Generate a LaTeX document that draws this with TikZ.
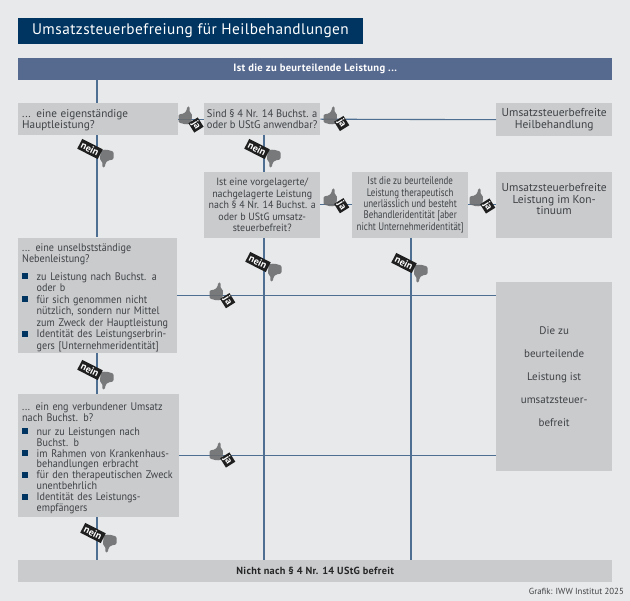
\documentclass[tikz,border=0pt]{standalone}
\usepackage{fontspec}
\setmainfont{PT Sans}
\newfontfamily\dint[LetterSpace=3]{PT Sans}
\newfontfamily\din[FakeStretch=0.92]{PT Sans}
\newfontfamily\dina[FakeStretch=0.95]{PT Sans}
\newfontfamily\dinc[FakeStretch=0.81]{PT Sans}
\definecolor{pagebg}{HTML}{E8E9EA}
\definecolor{boxgrey}{HTML}{C9CBCD}
\definecolor{navy}{HTML}{003561}
\definecolor{headblue}{HTML}{56698F}
\definecolor{rail}{HTML}{4F6F92}
\definecolor{txt}{HTML}{3F4245}
\definecolor{thumbgrey}{HTML}{6B6D70}
\newcommand{\bul}{\makebox[14.5pt][l]{\raisebox{1pt}{\textcolor{navy}{\rule{6pt}{6pt}}}}}
\newcommand{\ind}{\hspace*{14.5pt}}
\tikzset{
  x=1pt,y=-1pt,
  greybox/.style={fill=boxgrey,text=txt,anchor=north west,inner sep=0pt,align=center},
  leftbox/.style={greybox,align=left},
  conn/.style={draw=rail,line width=1.1pt},
  thumbup/.pic={\fill[thumbgrey,opacity=.9,rounded corners=1.3pt]
    (-6.5,-1.5)--(-1,-2.5)--(1.5,-5)--(2.2,-9.5)--(4.6,-9.5)--(4.6,-3.5)--(7,-2.5)--(6.5,7.5)--(1,8.5)--(-6.5,6.5)--cycle;},
  tagbox/.style={fill=black!88,text=white,inner sep=0pt,font=\fontsize{10}{10}\selectfont\bfseries},
  jatag/.style={tagbox,rotate=-58,minimum width=11pt,minimum height=11pt},
  neintag/.style={tagbox,rotate=-27,minimum width=23pt,minimum height=11pt},
}
\begin{document}
\begin{tikzpicture}
\useasboundingbox (0,0) rectangle (630,601);
\fill[pagebg] (0,0) rectangle (630,601);
\node[anchor=north west,fill=navy,text=white,minimum width=345.5pt,minimum height=26pt,inner sep=0pt,font=\dint\fontsize{15.3}{17}\selectfont] (title) at (17.5,18) {Umsatzsteuerbefreiung für Heilbehandlungen};
\node[anchor=north west,fill=headblue,text=white,minimum width=594pt,minimum height=22pt,inner sep=0pt,font=\dint\fontsize{10.6}{12}\selectfont\bfseries] (head) at (18,58) {Ist die zu beurteilende Leistung ...};
\node[leftbox,text width=160pt,minimum height=32pt,font=\fontsize{11.2}{11.7}\selectfont] (b1) at (18,103) {\hspace*{4pt}\rule{0pt}{10pt}... eine eigenständige\\\hspace*{4pt}Hauptleistung?};
\node[greybox,minimum width=116pt,minimum height=32pt,font=\dina\fontsize{11}{11.5}\selectfont] (b2) at (204,103) {Sind § 4 Nr. 14 Buchst. a\\oder b UStG anwendbar?};
\node[greybox,minimum width=116pt,minimum height=65.5pt,font=\dina\fontsize{10.5}{11.4}\selectfont] (b3) at (204,172) {Ist eine vorgelagerte/\\nachgelagerte Leistung\\nach § 4 Nr. 14 Buchst. a\\oder b UStG umsatz-\\steuerbefreit?};
\node[greybox,minimum width=116pt,minimum height=65.5pt,font=\dinc\fontsize{11}{11.4}\selectfont] (b4) at (352,172) {Ist die zu beurteilende\\Leistung therapeutisch\\unerlässlich und besteht\\Behandleridentität [aber\\nicht Unternehmeridentität]};
\node[greybox,minimum width=116pt,minimum height=33pt,font=\fontsize{11.5}{11.7}\selectfont] (r1) at (496,103) {Umsatzsteuerbefreite\\Heilbehandlung};
\node[minimum width=116pt,minimum height=65.5pt,fill=boxgrey,inner sep=0pt,anchor=north west] (r2) at (496,172) {};
\node[text=txt,align=center,inner sep=0pt,anchor=north,font=\fontsize{11.5}{11.7}\selectfont] (r2t) at (r2.north) [yshift=-11pt] {Umsatzsteuerbefreite\\Leistung im Kon-\\tinuum};
\node[greybox,minimum width=116pt,minimum height=189pt,font=\fontsize{11}{23}\selectfont] (r3) at (496,282) {Die zu\\beurteilende\\Leistung ist\\umsatzsteuer-\\befreit};
\node[leftbox,text width=158.5pt,minimum height=115.5pt,font=\din\fontsize{11}{11.5}\selectfont] (b5) at (18,237.5) {\hspace*{4pt}\rule{0pt}{12pt}... eine unselbstständige\\\hspace*{4pt}Nebenleistung?\\[6pt]
\hspace*{4pt}\bul zu Leistung nach Buchst. a\\\hspace*{4pt}\ind oder b\\
\hspace*{4pt}\bul für sich genommen nicht\\\hspace*{4pt}\ind nützlich, sondern nur Mittel\\\hspace*{4pt}\ind zum Zweck der Hauptleistung\\
\hspace*{4pt}\bul Identität des Leistungserbrin-\\\hspace*{4pt}\ind gers [Unternehmeridentität]};
\node[leftbox,text width=160.5pt,minimum height=123pt,font=\din\fontsize{11}{10.9}\selectfont] (b6) at (18,394) {\hspace*{4pt}\rule{0pt}{13pt}... ein eng verbundener Umsatz\\\hspace*{4pt}nach Buchst. b?\\[3pt]
\hspace*{4pt}\bul nur zu Leistungen nach\\\hspace*{4pt}\ind Buchst. b\\
\hspace*{4pt}\bul im Rahmen von Krankenhaus-\\\hspace*{4pt}\ind behandlungen erbracht\\
\hspace*{4pt}\bul für den therapeutischen Zweck\\\hspace*{4pt}\ind unentbehrlich\\
\hspace*{4pt}\bul Identität des Leistungs-\\\hspace*{4pt}\ind empfängers};
\node[anchor=north west,fill=boxgrey,text=black!85,minimum width=594pt,minimum height=22pt,inner sep=0pt,font=\dint\fontsize{10.3}{12}\selectfont\bfseries] (foot) at (18,560) {Nicht nach § 4 Nr. 14 UStG befreit};
\node[anchor=east,text=txt,inner sep=0pt,font=\fontsize{8.8}{10}\selectfont] (credit) at (624,591) {Grafik: IWW Institut 2025};
\coordinate (railA) at (97,0);
\coordinate (railB) at (264,0);
\coordinate (railC) at (411,0);
\draw[conn] (head.south -| railA) -- (b1.north -| railA);
\draw[conn] (b1.south -| railA) -- (b5.north -| railA);
\draw[conn] (b5.south -| railA) -- (b6.north -| railA);
\draw[conn] (b6.south -| railA) -- (foot.north -| railA);
\draw[conn] (b2.south -| railB) -- (b3.north -| railB);
\draw[conn] (b3.south -| railB) -- (foot.north -| railB);
\draw[conn] (b4.south -| railC) -- (foot.north -| railC);
\draw[conn] (b1.east) -- (b2.west);
\draw[conn] (b2.east) -- (r1.west);
\draw[conn] (b3.east) -- (b4.west);
\draw[conn] (b4.east) -- (r2.west);
\draw[conn] (b5.east) -- (b5.east -| r3.west);
\draw[conn] (b6.east) -- (b6.east -| r3.west);
% thumbs up with ja
\pic at (185,116) {thumbup}; \node[jatag] (ja1) at (196,125) {ja};
\pic at (330,116) {thumbup}; \node[jatag] (ja2) at (341.7,123.5) {ja};
\pic at (330,198) {thumbup}; \node[jatag] (ja3) at (341.7,205.7) {ja};
\pic at (476,198) {thumbup}; \node[jatag] (ja4) at (487.7,206) {ja};
\pic at (216,292) {thumbup}; \node[jatag] (ja5) at (227.7,300.7) {ja};
\pic at (216,452) {thumbup}; \node[jatag] (ja6) at (227.7,460) {ja};
% thumbs down with nein
\pic[rotate=180] at (107,158) {thumbup}; \node[neintag] (nein1) at (90,149) {nein};
\pic[rotate=180] at (274,158) {thumbup}; \node[neintag] (nein2) at (257,149) {nein};
\pic[rotate=180] at (275,272) {thumbup}; \node[neintag] (nein3) at (258,262) {nein};
\pic[rotate=180] at (421,273) {thumbup}; \node[neintag] (nein4) at (404,263) {nein};
\pic[rotate=180] at (107,380) {thumbup}; \node[neintag] (nein5) at (90,370) {nein};
\pic[rotate=180] at (110,543) {thumbup}; \node[neintag] (nein6) at (93,533) {nein};
\end{tikzpicture}
\end{document}
